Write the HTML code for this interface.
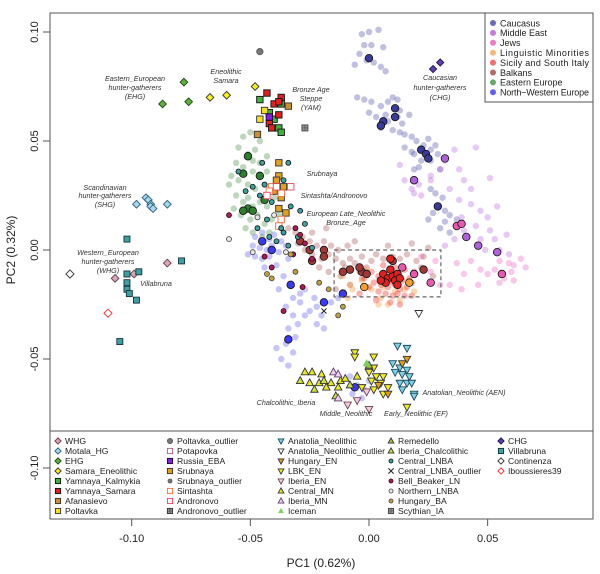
<!DOCTYPE html>
<html><head><meta charset="utf-8">
<style>
html,body{margin:0;padding:0;background:#fff;}
svg{display:block;font-family:"Liberation Sans",Arial,sans-serif;}
.lab{font-style:italic;font-size:7.2px;fill:#333;text-anchor:middle;}
</style></head>
<body>
<svg id="chart" width="600" height="574" viewBox="0 0 600 574">
  <g id="pale"></g>
  <g id="dark"></g>
  <g id="anc"></g>
  <g id="labels"></g>
  <rect x="50" y="13" width="543" height="506" fill="none" stroke="#555" stroke-width="1"/>
  <g id="axes"></g>
  <g id="leg1"></g>
  <g id="leg2"></g>
</svg>
<script>
// ---------- data (PC1, PC2) ----------
const xTicks = [-0.10, -0.05, 0.00, 0.05];
const xTickLabels = ["-0.10", "-0.05", "0.00", "0.05"];
const yTicks = [0.10, 0.05, 0.00, -0.05, -0.10];
const yTickLabels = ["0.10", "0.05", "0.00", "-0.05", "-0.10"];

const caucasusPale = [[-.003,.099],[.000,.100],[.004,.101],[-.002,.094],[.001,.094],[.006,.093],[-.004,.090],[-.001,.087],[.002,.086],[.005,.084],[.007,.082],[-.006,.085],[-.005,.070],[-.002,.069],[.001,.068],[.005,.066],[.008,.068],[.010,.070],[.012,.069],[.013,.064],[.012,.061],[.008,.059],[.005,.056],[.003,.061],[.000,.063],[.010,.055],[.014,.058],[.017,.062],[.007,.062],[.013,.054],[.015,.053],[.018,.052],[.020,.050],[.023,.048],[.026,.046],[.026,.041],[.022,.041],[.019,.044],[.018,.045],[.015,.047],[.025,.051],[.028,.048],[.029,.044],[.021,.038],[.019,.037],[.030,.037],[.026,.028],[.028,.026],[.031,.024],[.029,.020],[.032,.018],[.034,.016],[.027,.017],[.025,.014],[.030,.010],[.032,.013],[.037,.014],[.034,.008]];
const caucasusDark = [[.000,.088],[.011,.065],[.011,.061],[.006,.059],[.005,.057],[.022,.046],[.024,.044],[.025,.042],[.029,.020]];
const middleEastPale = [[.015,.032],[.018,.028],[.019,.026],[.021,.030],[.026,.034],[.030,.037],[.032,.041],[.036,.046],[.040,.032],[.043,.028],[.034,.028],[.038,.023],[.043,.021],[.047,.018],[.050,.015],[.051,.009],[.045,.011],[.040,.009],[.047,.005],[.053,.005],[.055,.000],[.049,.000],[.058,.007],[.059,-.002],[.036,.005],[.032,.002],[.039,.015],[.026,.032],[.013,.039],[.045,.047],[.051,.033],[.022,.025],[.038,.037],[.054,.020]];
const middleEastDark = [[.032,.042],[.019,.032],[.041,.006],[.046,.002],[.054,-.001]];
const jewsPale = [[.055,-.005],[.059,-.006],[.061,-.007],[.064,-.004],[.066,-.008],[.060,-.010],[.057,-.013],[.055,-.015],[.061,-.014],[.053,-.009],[.050,-.011],[.047,-.009],[.043,-.005],[.046,-.016],[.040,-.011],[.037,-.006],[.034,-.016],[.030,-.016],[.039,-.018],[.026,-.010],[.022,-.003],[.028,-.005]];
const jewsDark = [[.056,-.011],[.037,.011],[.039,.012],[.026,-.015],[.019,-.011],[.014,-.008]];
const lingPale = [[-.003,-.014],[.001,-.018],[.005,-.022],[.006,-.017],[.011,-.019],[.015,-.018],[.017,-.014],[.004,-.025],[.008,-.025],[-.007,-.018],[.013,-.023],[.019,-.019],[-.001,-.009],[-.008,-.016],[-.011,-.012],[-.009,-.022]];
const lingDark = [[-.002,-.017],[.017,-.015]];
const sicilyPale = [[.001,-.010],[.004,-.012],[.006,-.011],[.009,-.013],[.012,-.012],[.014,-.014],[.017,-.013],[.002,-.015],[.005,-.016],[.008,-.017],[.011,-.016],[.013,-.018],[.016,-.017],[.018,-.015],[.004,-.019],[.007,-.020],[.010,-.021],[.012,-.020],[.015,-.021],[.000,-.017],[-.002,-.013],[.006,-.007],[.011,-.008],[.015,-.009],[.019,-.010],[.003,-.023],[.009,-.024],[.013,-.025],[-.004,-.020],[.018,-.021],[.008,-.014],[.010,-.015],[.007,-.012]];
const sicilyDark = [[.006,-.011],[.008,-.013],[.010,-.012],[.012,-.011],[.007,-.015],[.011,-.014],[.013,-.013],[.009,-.009],[.012,-.016],[.005,-.014],[.009,-.004]];
const balkansPale = [[-.034,.010],[-.031,.008],[-.028,.006],[-.025,.004],[-.022,.002],[-.019,.004],[-.016,.002],[-.030,.003],[-.027,.000],[-.024,-.002],[-.020,-.004],[-.017,-.002],[-.014,-.004],[-.011,-.006],[-.008,-.004],[-.013,.000],[-.010,-.008],[-.006,-.006],[-.004,-.010],[-.001,-.008],[-.003,-.003],[.001,-.005],[.003,-.002],[.006,-.004],[.010,-.003],[.013,-.004],[.016,-.002],[.020,-.005],[.023,-.003],[.008,.002],[-.012,-.012],[-.008,-.016],[-.014,-.018],[-.017,-.010],[-.021,-.008],[-.003,-.013],[.022,-.008],[.027,-.012],[-.024,.008],[-.009,.002],[.025,.001],[.018,.003],[-.006,.004],[-.018,.010]];
const balkansDark = [[-.025,.000],[-.019,.000],[-.024,-.005],[-.019,-.003],[-.011,-.010],[-.008,-.009],[-.003,-.010],[-.001,-.011],[-.004,-.008],[.010,-.005],[.023,-.009],[-.029,.004]];
const eastEuPale = [[-.055,.047],[-.053,.052],[-.050,.054],[-.051,.044],[-.048,.046],[-.046,.050],[-.056,.040],[-.053,.038],[-.049,.036],[-.046,.040],[-.043,.036],[-.055,.032],[-.051,.030],[-.048,.028],[-.044,.030],[-.042,.028],[-.056,.025],[-.053,.022],[-.049,.020],[-.046,.022],[-.043,.020],[-.040,.024],[-.054,.016],[-.050,.014],[-.047,.016],[-.044,.012],[-.041,.014],[-.038,.016],[-.052,.010],[-.049,.008],[-.045,.006],[-.042,.008],[-.058,.034],[-.057,.019],[-.059,.030],[-.039,.032],[-.049,.041],[-.043,.043],[-.051,.024],[-.046,.034]];
const eastEuDark = [[-.051,.043],[-.053,.035],[-.051,.019],[-.053,.018],[-.049,.018],[-.046,.034],[-.044,.023]];
const nwEuPale = [[-.048,.006],[-.045,.008],[-.042,.005],[-.040,.007],[-.037,.004],[-.049,.002],[-.046,.001],[-.043,.000],[-.041,.002],[-.038,-.001],[-.048,-.003],[-.045,-.004],[-.042,-.003],[-.051,-.002],[-.035,.002],[-.044,-.008],[-.039,-.007],[-.034,-.004],[-.036,-.012],[-.033,-.016],[-.038,-.018],[-.032,-.022],[-.035,-.026],[-.029,-.024],[-.032,-.030],[-.030,-.034],[-.034,-.036],[-.027,-.030],[-.031,-.040],[-.035,-.043],[-.032,-.047],[-.037,-.050],[-.034,-.053],[-.039,-.045],[-.027,-.018],[-.023,-.022],[-.022,-.026],[-.020,-.030],[-.025,-.028],[-.029,-.020],[-.016,-.024],[-.013,-.022],[-.022,-.034],[-.019,-.036],[-.008,-.058],[-.005,-.062],[-.002,-.064],[-.007,-.066],[-.003,-.068],[.000,-.060]];
const nwEuDark = [[-.045,.004],[-.041,.000],[-.033,-.016],[-.034,-.041],[-.019,-.024],[-.011,-.020],[-.006,-.063]];

const whg = [[-.107,-.013],[-.099,-.011],[-.085,-.006]];
const continenza = [[-.126,-.011]];
const iboussieres = [[-.110,-.029]];
const villabruna = [[-.102,.005],[-.102,-.011],[-.097,-.010],[-.102,-.015],[-.102,-.018],[-.101,-.020],[-.098,-.023],[-.079,-.005],[-.105,-.042]];
const motala = [[-.098,.021],[-.094,.024],[-.093,.023],[-.092,.021],[-.092,.020],[-.091,.019],[-.085,.021]];
const ehg = [[-.087,.067],[-.078,.077],[-.076,.068]];
const samaraEneo = [[-.067,.070],[-.060,.071],[-.048,.075]];
const poltavkaOut = [[-.046,.091]];
const yamSamara = [[-.043,.072],[-.037,.070],[-.040,.067],[-.038,.062],[-.042,.058],[-.041,.056],[-.038,.068]];
const yamKalmykia = [[-.046,.069],[-.037,.067],[-.040,.060],[-.038,.056],[-.037,.054],[-.042,.063]];
const poltavka = [[-.046,.060],[-.044,.064]];
const afanasievo = [[-.034,.066],[-.047,.053]];
const russiaEBA = [[-.042,.061]];
const scythian = [[-.027,.056]];
const srubnaya = [[-.038,.040],[-.038,.034],[-.039,.032],[-.036,.029],[-.038,.019],[-.035,.017],[-.040,.027],[-.037,.024]];
const sintashta = [[-.041,.029],[-.042,.027],[-.037,.026],[-.037,.014],[-.038,.011]];
const andronovo = [[-.039,.029],[-.033,.029],[-.043,.025]];
const centralLNBA = [[-.045,.040],[-.034,.040],[-.036,.032],[-.044,.030],[-.041,.022],[-.033,.020],[-.043,.014],[-.047,.010],[-.036,.008],[-.030,.006],[-.039,.004],[-.034,.002],[-.027,.012],[-.029,.018],[-.046,.025],[-.049,.029],[-.052,.027],[-.055,.036],[-.037,.010],[-.042,.006],[-.032,-.002],[-.024,.001]];
const bellBeaker = [[-.031,.010],[-.029,.007],[-.027,.003],[-.032,-.002],[-.024,-.004],[-.041,-.008],[-.044,-.003],[-.059,.016],[-.028,-.017],[-.036,-.028]];
const hungaryBA = [[-.043,-.011],[-.041,-.013],[-.021,-.015],[-.017,-.018],[-.011,-.026],[-.013,-.030],[-.033,-.002],[-.031,-.010]];
const northernLNBA = [[-.059,.005],[-.040,.016],[-.047,.015],[-.035,-.001],[-.049,-.001]];
const centralLNBAOut = [[-.019,-.028]];
const anatoliaOut = [[.021,-.029]];
const chg = [[.027,.083],[.030,.086]];
const anatoliaNeo = [[.012,-.044],[.016,-.045],[.010,-.052],[.013,-.054],[.016,-.055],[.014,-.057],[.017,-.058],[.011,-.056],[.013,-.061],[.016,-.061],[.018,-.061],[.014,-.064],[.019,-.066],[.019,-.067]];
const lbkEN = [[.002,-.049],[-.006,-.047],[-.006,-.049],[.002,-.054],[.000,-.056],[.003,-.058],[.001,-.060],[.006,-.058],[.005,-.061],[.008,-.063],[.006,-.066],[.002,-.064],[-.003,-.063],[.016,-.072]];
const hungaryEN = [[.016,-.050],[.014,-.052],[.008,-.066],[.004,-.062]];
const iberiaEN = [[-.001,-.065],[-.005,-.069],[-.009,-.071],[.000,-.073]];
const centralMN = [[-.027,-.056],[-.024,-.056],[-.020,-.057],[-.025,-.061],[-.021,-.061],[-.016,-.061],[-.012,-.060],[-.010,-.059],[-.018,-.063],[-.013,-.063],[-.005,-.058]];
const iberiaChalco = [[-.023,-.064],[-.029,-.060],[-.014,-.067],[-.008,-.062],[-.019,-.060]];
const iberiaMN = [[-.015,-.056],[-.013,-.057],[-.013,-.068]];
const remedello = [[.000,-.053]];
const iceman = [[-.001,-.052]];
const zoomBox = [-0.0147, 0.0303, 0.0, -0.0215];

// ---------- scales ----------
const X0 = 369, XS = 2373, Y0 = 250, YS = 2180;
function sx(v){ return X0 + v*XS; }
function sy(v){ return Y0 - v*YS; }
const NS = "http://www.w3.org/2000/svg";
function mk(tag, attrs, parent){
  const e = document.createElementNS(NS, tag);
  for (const k in attrs) e.setAttribute(k, attrs[k]);
  parent.appendChild(e);
  return e;
}
function marker(parent, shape, cx, cy, s, fill, stroke){
  let e;
  const st = stroke || "none";
  if (shape === "circle") e = mk("circle", {cx:cx, cy:cy, r:s, fill:fill, stroke:st, "stroke-width":0.8}, parent);
  else if (shape === "square") e = mk("rect", {x:cx-s, y:cy-s, width:2*s, height:2*s, fill:fill, stroke:st, "stroke-width":0.9}, parent);
  else if (shape === "diamond") e = mk("polygon", {points:`${cx},${cy-s*1.2} ${cx+s*1.2},${cy} ${cx},${cy+s*1.2} ${cx-s*1.2},${cy}`, fill:fill, stroke:st, "stroke-width":0.9}, parent);
  else if (shape === "triup") e = mk("polygon", {points:`${cx},${cy-s*1.2} ${cx+s*1.1},${cy+s*0.8} ${cx-s*1.1},${cy+s*0.8}`, fill:fill, stroke:st, "stroke-width":0.9}, parent);
  else if (shape === "tridown") e = mk("polygon", {points:`${cx},${cy+s*1.2} ${cx+s*1.1},${cy-s*0.8} ${cx-s*1.1},${cy-s*0.8}`, fill:fill, stroke:st, "stroke-width":0.9}, parent);
  else if (shape === "cross") e = mk("path", {d:`M${cx-s},${cy-s}L${cx+s},${cy+s}M${cx-s},${cy+s}L${cx+s},${cy-s}`, stroke:st, "stroke-width":1, fill:"none"}, parent);
  else if (shape === "boxx") { e = mk("rect", {x:cx-s, y:cy-s, width:2*s, height:2*s, fill:fill, stroke:st, "stroke-width":0.9}, parent);
    mk("path", {d:`M${cx-s},${cy}L${cx+s},${cy}M${cx},${cy-s}L${cx},${cy+s}`, stroke:st, "stroke-width":0.6}, parent); }
  else if (shape === "star") { e = mk("circle", {cx:cx, cy:cy, r:s, fill:fill, stroke:st, "stroke-width":0.8}, parent); }
  return e;
}

// ---------- modern populations ----------
const modern = [
  ["caucasus", caucasusPale, caucasusDark, "rgba(90,90,175,0.38)", "#3a3a9a"],
  ["middle-east", middleEastPale, middleEastDark, "rgba(185,100,230,0.35)", "#b060d8"],
  ["jews", jewsPale, jewsDark, "rgba(240,110,200,0.38)", "#e858b0"],
  ["balkans", balkansPale, balkansDark, "rgba(170,80,80,0.35)", "#a03838"],
  ["eastern-europe", eastEuPale, eastEuDark, "rgba(80,150,80,0.38)", "#2f7f2f"],
  ["nw-europe", nwEuPale, nwEuDark, "rgba(90,90,245,0.35)", "#3a3af0"],
  ["linguistic-minorities", lingPale, lingDark, "rgba(250,160,70,0.42)", "#f0a030"],
  ["sicily-south-italy", sicilyPale, sicilyDark, "rgba(240,50,40,0.38)", "#e02020"]
];
const paleG = document.getElementById("pale"), darkG = document.getElementById("dark");
modern.forEach(m => {
  m[1].forEach(p => {
    const c = marker(paleG, "circle", sx(p[0]), sy(p[1]), 3.2, m[3], null);
    
    
  });
});
modern.forEach(m => {
  m[2].forEach(p => {
    const c = marker(darkG, "circle", sx(p[0]), sy(p[1]), 3.8, m[4], "#111");
    
    
  });
});

// dashed box
const bx = mk("rect", {x:sx(zoomBox[0]), y:sy(zoomBox[2]), width:sx(zoomBox[1])-sx(zoomBox[0]), height:sy(zoomBox[3])-sy(zoomBox[2]), fill:"none", stroke:"#666", "stroke-width":1.2, "stroke-dasharray":"4,3"}, document.getElementById("dark"));



// ---------- ancient samples ----------
const ancient = [
  ["WHG", whg, "diamond", 3.2, "#d8a8b8", "#6a3a4a"],
  ["Motala_HG", motala, "diamond", 3.2, "#a8d8f0", "#2a6080"],
  ["EHG", ehg, "diamond", 3.2, "#60b040", "#1a4a10"],
  ["Samara_Eneolithic", samaraEneo, "diamond", 3.2, "#f4f020", "#333"],
  ["Yamnaya_Kalmykia", yamKalmykia, "square", 3.2, "#40b040", "#111"],
  ["Yamnaya_Samara", yamSamara, "square", 3.2, "#e02020", "#111"],
  ["Afanasievo", afanasievo, "square", 3.2, "#c89030", "#333"],
  ["Poltavka", poltavka, "square", 3.2, "#f4e020", "#333"],
  ["Poltavka_outlier", poltavkaOut, "star", 3.2, "#777", "#555"],
  ["Russia_EBA", russiaEBA, "square", 3.2, "#8020e0", "#203"],
  ["Srubnaya", srubnaya, "square", 3.2, "#e0a020", "#333"],
  ["Sintashta", sintashta, "square", 3.2, "#fff", "#f07040"],
  ["Andronovo", andronovo, "square", 3.2, "#fff", "#f04060"],
  ["Central_LNBA", centralLNBA, "circle", 2.5, "#40a0a0", "#111"],
  ["Bell_Beaker_LN", bellBeaker, "circle", 2.5, "#a02060", "#400"],
  ["Hungary_BA", hungaryBA, "circle", 2.5, "#c0a040", "#444"],
  ["Northern_LNBA", northernLNBA, "circle", 2.5, "#e8e8e8", "#444"],
  ["Scythian_IA", scythian, "boxx", 3, "#999", "#444"],
  ["Central_LNBA_outlier", centralLNBAOut, "cross", 2.5, "none", "#222"],
  ["Anatolia_Neolithic_outlier", anatoliaOut, "tridown", 3.4, "#fff", "#333"],
  ["CHG", chg, "diamond", 3, "#6040b0", "#201050"],
  ["Villabruna", villabruna, "square", 3, "#40a0a0", "#134"],
  ["Continenza", continenza, "diamond", 3.4, "#fff", "#333"],
  ["Iboussieres39", iboussieres, "diamond", 3.4, "#fff", "#f03030"],
  ["Central_MN", centralMN, "triup", 3.4, "#e8e820", "#333"],
  ["Iberia_Chalcolithic", iberiaChalco, "triup", 3.4, "#c8e040", "#333"],
  ["Iberia_MN", iberiaMN, "triup", 3.4, "#f0d0f0", "#604070"],
  ["Anatolia_Neolithic", anatoliaNeo, "tridown", 3.4, "#80d0e0", "#1a4a60"],
  ["LBK_EN", lbkEN, "tridown", 3.4, "#f0f020", "#333"],
  ["Hungary_EN", hungaryEN, "tridown", 3.4, "#e0a020", "#333"],
  ["Iberia_EN", iberiaEN, "tridown", 3.4, "#f0d0e0", "#704050"],
  ["Remedello", remedello, "triup", 3.4, "#a0c040", "#333"],
  ["Iceman", iceman, "triup", 3.6, "#80d060", null]
];
const ancG = document.getElementById("anc");
ancient.forEach(a => {
  a[1].forEach(p => {
    const e = marker(ancG, a[2], sx(p[0]), sy(p[1]), a[3], a[4], a[5]);
    
    
  });
});

// ---------- annotation labels ----------
const labels = [
  [135, [81,90,99], ["Eastern_European","hunter-gatherers","(EHG)"]],
  [226, [74,83], ["Eneolithic","Samara"]],
  [311, [92,101,110], ["Bronze Age","Steppe","(YAM)"]],
  [440, [80,90,100], ["Caucasian","hunter-gatherers","(CHG)"]],
  [322, [176], ["Srubnaya"]],
  [334, [198], ["Sintashta/Andronovo"]],
  [346, [216,225], ["European Late_Neolithic","Bronze_Age"]],
  [105, [190,198,207], ["Scandinavian","hunter-gatherers","(SHG)"]],
  [108, [255,264,273], ["Western_European","hunter-gatherers","(WHG)"]],
  [156, [286], ["Villabruna"]],
  [286, [405], ["Chalcolithic_Iberia"]],
  [346, [416], ["Middle_Neolithic"]],
  [416, [416], ["Early_Neolithic (EF)"]],
  [464, [395], ["Anatolian_Neolithic (AEN)"]]
];
const labG = document.getElementById("labels");
labels.forEach(l => {
  l[2].forEach((t, i) => {
    const e = mk("text", {x:l[0], y:l[1][i], class:"lab"}, labG);
    e.textContent = t;
    
    
  });
});

// ---------- axes ----------
const axG = document.getElementById("axes");
xTicks.forEach((v, i) => {
  const t = mk("line", {x1:sx(v), x2:sx(v), y1:519, y2:526, stroke:"#555"}, axG);
  
  
  const tx = mk("text", {x:sx(v), y:542, "font-size":11, "text-anchor":"middle", fill:"#222"}, axG);
  tx.textContent = xTickLabels[i];
  
  
});
yTicks.forEach((v, i) => {
  const t = mk("line", {x1:43, x2:50, y1:sy(v), y2:sy(v), stroke:"#555"}, axG);
  
  
  const tx = mk("text", {x:0, y:0, "font-size":11, "text-anchor":"middle", fill:"#222", transform:`translate(38,${sy(v)}) rotate(-90)`}, axG);
  tx.textContent = yTickLabels[i];
  
  
});
const xt = mk("text", {x:321, y:567, "font-size":12, "text-anchor":"middle", fill:"#222"}, axG);
xt.textContent = "PC1 (0.62%)";


const yt = mk("text", {x:0, y:0, "font-size":12, "text-anchor":"middle", fill:"#222", transform:"translate(15,250) rotate(-90)"}, axG);
yt.textContent = "PC2 (0.32%)";



// ---------- top-right legend ----------
const leg1 = document.getElementById("leg1");
const lb = mk("rect", {x:485, y:13, width:108, height:89, fill:"#fff", stroke:"#555"}, leg1);


const popNames = ["Caucasus","Middle East","Jews","Linguistic Minorities","Sicily and South Italy","Balkans","Eastern Europe","North\u2212Western Europe"];
const popColors = ["#6a6ab8","#c47ae4","#f07ac4","#f8b878","#f07070","#b86a6a","#6aa86a","#6060f0"];
popNames.forEach((n, i) => {
  const y = 23 + i*9.9;
  const c = mk("circle", {cx:493, cy:y, r:3, fill:popColors[i]}, leg1);
  
  
  const t = mk("text", {x:500, y:y+3.3, "font-size":9, fill:"#222", textLength: n.length > 19 ? 89 : null}, leg1);
  if (n.length <= 19) t.removeAttribute("textLength");
  t.textContent = n;
  
  
});

// ---------- bottom legend ----------
const leg2 = document.getElementById("leg2");
const lb2 = mk("rect", {x:50, y:431, width:543, height:88, fill:"#fff", stroke:"#555"}, leg2);


const legCols = [
  ["WHG","Motala_HG","EHG","Samara_Eneolithic","Yamnaya_Kalmykia","Yamnaya_Samara","Afanasievo","Poltavka"],
  ["Poltavka_outlier","Potapovka","Russia_EBA","Srubnaya","Srubnaya_outlier","Sintashta","Andronovo","Andronovo_outlier"],
  ["Anatolia_Neolithic","Anatolia_Neolithic_outlier","Hungary_EN","LBK_EN","Iberia_EN","Central_MN","Iberia_MN","Iceman"],
  ["Remedello","Iberia_Chalcolithic","Central_LNBA","Central_LNBA_outlier","Bell_Beaker_LN","Northern_LNBA","Hungary_BA","Scythian_IA"],
  ["CHG","Villabruna","Continenza","Iboussieres39"]
];
const extraStyles = {
  "Potapovka": ["square", "#fff", "#b06080"],
  "Srubnaya_outlier": ["circle", "#777", "#555"],
  "Andronovo_outlier": ["boxx", "#999", "#333"]
};
const colX = [58, 170, 281, 391, 501];
legCols.forEach((col, ci) => {
  col.forEach((name, ri) => {
    const y = 441 + ri*10;
    let st = ancient.find(a => a[0] === name);
    let shape, fill, stroke;
    if (st) { shape = st[2]; fill = st[4]; stroke = st[5]; }
    else { [shape, fill, stroke] = extraStyles[name]; }
    const s = shape === "circle" ? 2 : 2.6;
    const m = marker(leg2, shape, colX[ci], y, s, fill, stroke);
    
    
    const t = mk("text", {x:colX[ci]+7, y:y+3.2, "font-size":8.6, fill:"#222"}, leg2);
    t.textContent = name;
    
    
  });
});
</script>
</body></html>
